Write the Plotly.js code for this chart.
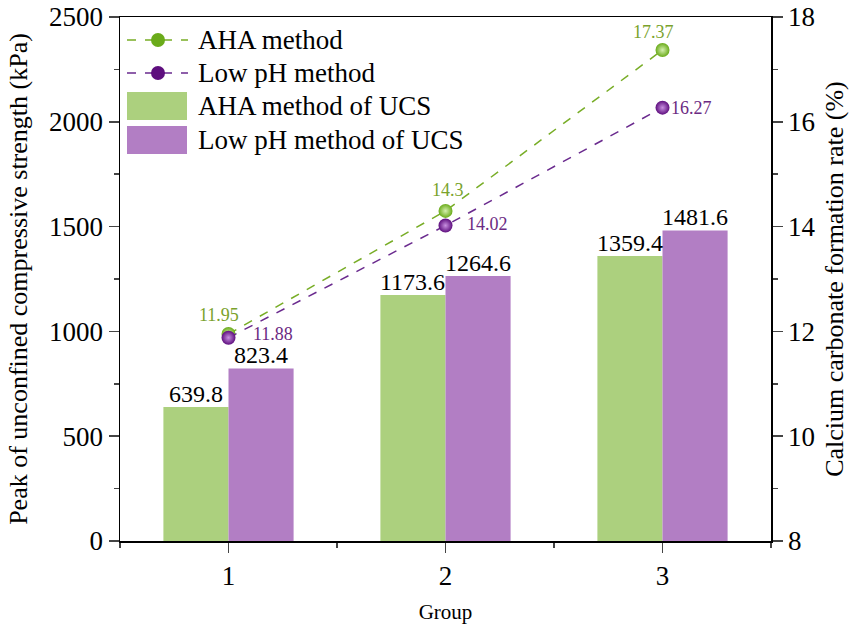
<!DOCTYPE html>
<html><head><meta charset="utf-8">
<script src="https://cdn.plot.ly/plotly-3.0.1.min.js"></script>
<style>html,body{margin:0;padding:0;background:#fff}#chart{width:851px;height:632px}</style>
</head><body><div id="chart"></div>
<script>
const groups = [1, 2, 3];
const ucsAHA = [639.8, 1173.6, 1359.4];
const ucsLowPH = [823.4, 1264.6, 1481.6];
const rateAHA = [11.95, 14.3, 17.37];
const rateLowPH = [11.88, 14.02, 16.27];
const seriesNames = ['AHA method', 'Low pH method', 'AHA method of UCS', 'Low pH method of UCS'];

const FONT = 'Times New Roman, Liberation Serif, serif';
const barGreen = '#acd07e', barPurple = '#b27ec4';
const lineGreen = '#78ad26', linePurple = '#6a2a8e';
const mkGreen = '#6aab1a', mkPurple = '#5e0e7e';
const lblGreen = '#7aa22c', lblPurple = '#6b2a82';

const L = 120, R = 771, T = 17, B = 541, W = 851, H = 632;
const px = x => (x - L) / (R - L);
const py = y => (B - y) / (B - T);

const traces = [
  {type:'bar', x:groups, y:ucsAHA, name:seriesNames[2], marker:{color:barGreen}, showlegend:false},
  {type:'bar', x:groups, y:ucsLowPH, name:seriesNames[3], marker:{color:barPurple}, showlegend:false},
  {type:'scatter', mode:'lines+markers', x:groups, y:rateAHA, yaxis:'y2', name:seriesNames[0],
   line:{color:lineGreen, dash:'dash', width:1.5},
   marker:{color:mkGreen, size:14, gradient:{type:'radial', color:'#d6f0b0'}}, showlegend:false},
  {type:'scatter', mode:'lines+markers', x:groups, y:rateLowPH, yaxis:'y2', name:seriesNames[1],
   line:{color:linePurple, dash:'dash', width:1.5},
   marker:{color:mkPurple, size:14, gradient:{type:'radial', color:'#c890e0'}}, showlegend:false}
];

const annotations = [];
groups.forEach((g, i) => {
  annotations.push({x:g-0.15, y:ucsAHA[i], xref:'x', yref:'y', text:ucsAHA[i].toFixed(1), showarrow:false,
    yanchor:'bottom', yshift:-2, font:{family:FONT, size:24, color:'#000'}});
  annotations.push({x:g+0.15, y:ucsLowPH[i], xref:'x', yref:'y', text:ucsLowPH[i].toFixed(1), showarrow:false,
    yanchor:'bottom', yshift:-2, font:{family:FONT, size:24, color:'#000'}});
});
const greenOff = [[-10, 19], [2, 21], [-9, 18]];
const purpleOff = [[44, 4], [42, 2], [29, 0]];
groups.forEach((g, i) => {
  annotations.push({x:g, y:rateAHA[i], xref:'x', yref:'y2', text:String(rateAHA[i]), showarrow:false,
    xshift:greenOff[i][0], yshift:greenOff[i][1], font:{family:FONT, size:18, color:lblGreen}});
  annotations.push({x:g, y:rateLowPH[i], xref:'x', yref:'y2', text:String(rateLowPH[i]), showarrow:false,
    xshift:purpleOff[i][0], yshift:purpleOff[i][1], font:{family:FONT, size:18, color:lblPurple}});
});

const shapes = [];
const legRows = [40, 73, 106, 140];
const legColors = [lineGreen, linePurple];
const legMk = [mkGreen, mkPurple];
[0,1].forEach(k => {
  const y = legRows[k];
  shapes.push({type:'line', xref:'paper', yref:'paper', x0:px(127), x1:px(188), y0:py(y), y1:py(y),
    line:{color:legColors[k], dash:'dash', width:1.5}});
  shapes.push({type:'circle', xref:'paper', yref:'paper', x0:px(151), x1:px(165), y0:py(y+7), y1:py(y-7),
    fillcolor:legMk[k], line:{color:legMk[k], width:0}});
});
[[barGreen,2],[barPurple,3]].forEach(([c,k]) => {
  const y = legRows[k];
  shapes.push({type:'rect', xref:'paper', yref:'paper', x0:px(127), x1:px(187), y0:py(y+14), y1:py(y-14),
    fillcolor:c, line:{width:0}});
});
seriesNames.forEach((n, k) => {
  annotations.push({x:px(196), y:py(legRows[k]), xref:'paper', yref:'paper', text:n, showarrow:false,
    xanchor:'left', yanchor:'middle', font:{family:FONT, size:27, color:'#000'}});
});

const layout = {
  width:W, height:H,
  margin:{l:L, r:W-R, t:T, b:H-B},
  paper_bgcolor:'#fff', plot_bgcolor:'#fff',
  barmode:'group', bargap:0.4, bargroupgap:0,
  font:{family:FONT, color:'#000'},
  showlegend:false,
  xaxis:{range:[0.5,3.5], tickvals:groups, ticktext:groups.map(String), ticks:'outside', ticklen:10, tickwidth:1.5,
    showline:true, linecolor:'#000', linewidth:1.5, mirror:true, showgrid:false, zeroline:false,
    tickfont:{family:FONT, size:27}, minor:{dtick:0.5, ticks:'outside', ticklen:5, tickwidth:1.5, showgrid:false},
    title:{text:'Group', font:{family:FONT, size:21}, standoff:14}},
  yaxis:{range:[0,2500], dtick:500, ticks:'outside', ticklen:10, tickwidth:1.5,
    showline:true, linecolor:'#000', linewidth:1.5, showgrid:false, zeroline:false,
    tickfont:{family:FONT, size:27}, minor:{dtick:250, ticks:'outside', ticklen:5, tickwidth:1.5, showgrid:false},
    title:{text:'Peak of unconfined compressive strength (kPa)', font:{family:FONT, size:26}, standoff:14}},
  yaxis2:{overlaying:'y', side:'right', range:[8,18], dtick:2, ticks:'outside', ticklen:10, tickwidth:1.5,
    showline:true, linecolor:'#000', linewidth:1.5, showgrid:false, zeroline:false,
    tickfont:{family:FONT, size:27}, minor:{dtick:1, ticks:'outside', ticklen:5, tickwidth:1.5, showgrid:false},
    title:{text:'Calcium carbonate formation rate (%)', font:{family:FONT, size:26}, standoff:10}},
  shapes:shapes, annotations:annotations
};

Plotly.newPlot('chart', traces, layout, {displayModeBar:false, staticPlot:true});
</script></body></html>
